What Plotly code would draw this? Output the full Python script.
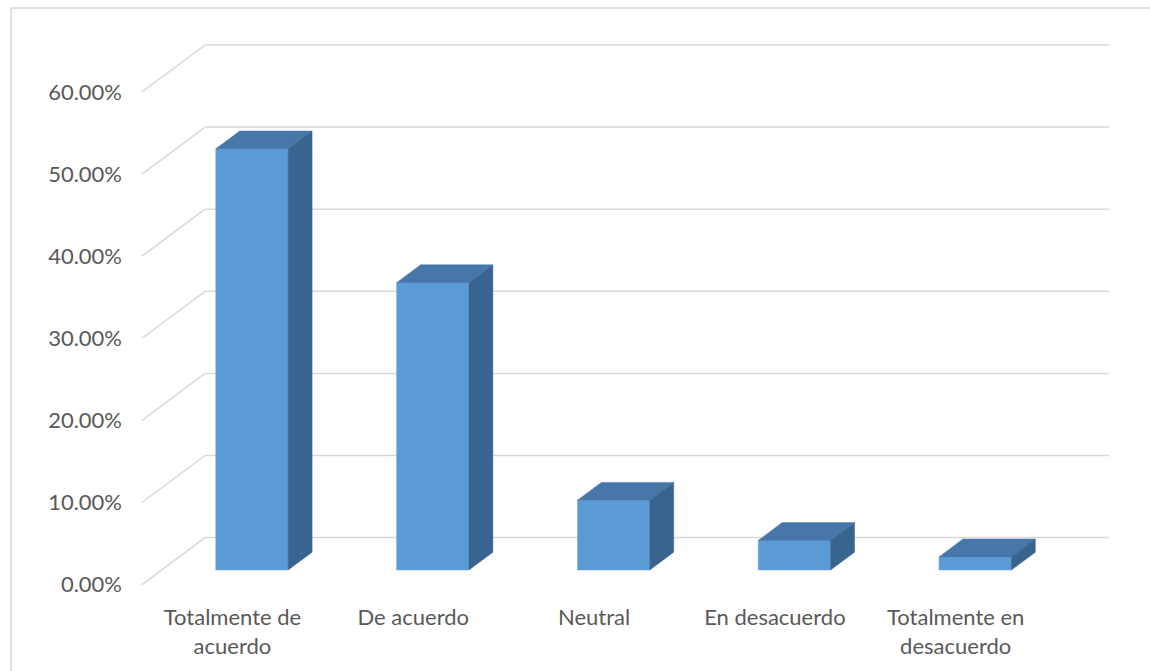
import plotly.graph_objects as go

# ---- data ----
categories = ["Totalmente de<br>acuerdo", "De acuerdo", "Neutral", "En desacuerdo", "Totalmente en<br>desacuerdo"]
values = [0.513, 0.350, 0.085, 0.036, 0.016]
y_ticks = [0.0, 0.1, 0.2, 0.3, 0.4, 0.5, 0.6]

# ---- style / geometry ----
FRONT = "#5B9BD5"
TOP = "#4677A8"
SIDE = "#3A6490"
GRID = "#D9D9D9"
TEXT = "#595959"
FONT = "Lato"

PX_X = 180.8   # pixels per category
PX_Y = 821.7   # pixels per unit value
DX = 63 / PX_X   # depth offset of the wall (x units)
DY = 47 / PX_Y   # depth offset of the wall (y units)
F0 = 0.31        # bar front at this depth fraction
FD = 0.38        # bar depth fraction
BW = 0.4         # bar width

X0, X1 = -0.55, 4.87
Y0, Y1 = -0.02, 0.712
W, H = 1150, 671
plot_w = (X1 - X0) * PX_X
plot_h = (Y1 - Y0) * PX_Y
ml = 142 - 0.05 * PX_X
mr = W - ml - plot_w
mt = 0
mb = H - mt - plot_h

fig = go.Figure()

n = len(categories)

# gridlines: back wall + left wall diagonals (drawn below traces)
for t in y_ticks:
    fig.add_shape(type="line", xref="x", yref="y", layer="below",
                  x0=-0.5, y0=t, x1=-0.5 + DX, y1=t + DY,
                  line=dict(color=GRID, width=1.5))
    fig.add_shape(type="line", xref="x", yref="y", layer="below",
                  x0=-0.5 + DX, y0=t + DY, x1=n - 0.5 + DX, y1=t + DY,
                  line=dict(color=GRID, width=1.5))

# bars
xs = [i + F0 * DX for i in range(n)]
base = F0 * DY
fig.add_trace(go.Bar(
    x=xs, y=values, base=[base] * n, width=BW,
    marker=dict(color=FRONT, line=dict(color="#6FA8DC", width=0.6)),
    hoverinfo="skip"))

for xc, v in zip(xs, values):
    xl, xr = xc - BW / 2, xc + BW / 2
    top = base + v
    ddx, ddy = FD * DX, FD * DY
    # top face
    fig.add_trace(go.Scatter(
        x=[xl, xr, xr + ddx, xl + ddx, xl],
        y=[top, top, top + ddy, top + ddy, top],
        fill="toself", fillcolor=TOP, mode="lines",
        line=dict(color=TOP, width=0.5), hoverinfo="skip"))
    # side face
    fig.add_trace(go.Scatter(
        x=[xr, xr, xr + ddx, xr + ddx, xr],
        y=[base, top, top + ddy, base + ddy, base],
        fill="toself", fillcolor=SIDE, mode="lines",
        line=dict(color=SIDE, width=0.5), hoverinfo="skip"))

# chart frame
fig.add_shape(type="rect", xref="paper", yref="paper",
              x0=(11 - ml) / plot_w, x1=(W + 5 - ml) / plot_w,
              y0=-(mb + 5) / plot_h, y1=(H - mb - 8) / plot_h,
              line=dict(color=GRID, width=1.5), layer="below")

fig.update_layout(
    width=W, height=H,
    margin=dict(l=ml, r=mr, t=mt, b=mb, pad=0),
    paper_bgcolor="white", plot_bgcolor="white",
    showlegend=False,
    font=dict(family=FONT, size=22, color=TEXT),
    xaxis=dict(range=[X0, X1], tickmode="array", tickvals=list(range(n)),
               ticktext=categories, showgrid=False, zeroline=False,
               showline=False, ticks="", ticklabelstandoff=1,
               fixedrange=True),
    yaxis=dict(range=[Y0, Y1], tickmode="array", tickvals=y_ticks,
               tickformat=".2%", showgrid=False, zeroline=False,
               showline=False, ticks="", ticklabelstandoff=10,
               fixedrange=True),
)

fig.write_html("out.html")
